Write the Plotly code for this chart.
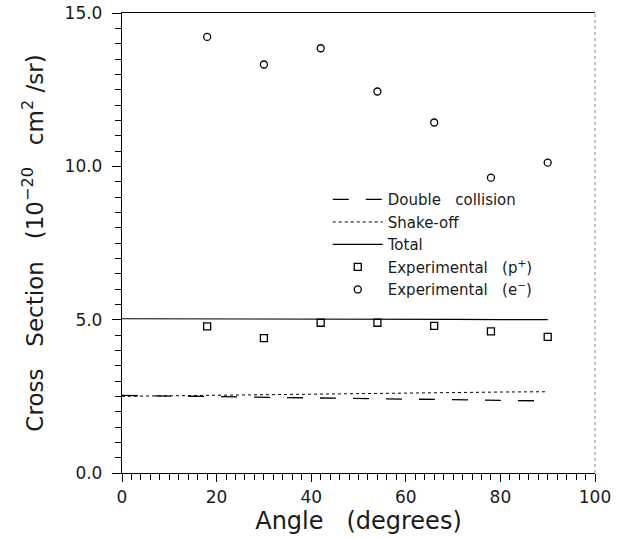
import plotly.graph_objects as go

# Theory curves (angle in degrees)
line_angle = [0, 10, 20, 30, 40, 50, 60, 70, 80, 90]
double_collision = [2.53, 2.51, 2.49, 2.47, 2.45, 2.43, 2.41, 2.39, 2.37, 2.35]
shake_off = [2.50, 2.52, 2.54, 2.56, 2.58, 2.60, 2.61, 2.63, 2.64, 2.65]
total = [5.03, 5.03, 5.03, 5.02, 5.02, 5.02, 5.01, 5.01, 5.00, 5.00]

# Experimental points
exp_angle = [18, 30, 42, 54, 66, 78, 90]
exp_p = [4.78, 4.40, 4.90, 4.90, 4.80, 4.62, 4.44]
exp_e = [14.22, 13.32, 13.85, 12.44, 11.43, 9.63, 10.12]

x_ticks = [0, 20, 40, 60, 80, 100]
y_ticks = [0, 5, 10, 15]
y_tick_labels = ["0.0", "5.0", "10.0", "15.0"]

FONT = "DejaVu Sans, Liberation Sans, sans-serif"
TXT = "#1a1a1a"

fig = go.Figure()
fig.add_trace(go.Scatter(x=line_angle, y=double_collision, mode="lines",
                         name="Double&nbsp;&nbsp; collision",
                         line=dict(color="black", width=1.3, dash="16px,17px")))
fig.add_trace(go.Scatter(x=line_angle, y=shake_off, mode="lines",
                         name="Shake-off",
                         line=dict(color="black", width=1, dash="3px,3px")))
fig.add_trace(go.Scatter(x=line_angle, y=total, mode="lines",
                         name="Total",
                         line=dict(color="black", width=1.2)))
fig.add_trace(go.Scatter(x=exp_angle, y=exp_p, mode="markers",
                         name="Experimental&nbsp;&nbsp; (p<sup>+</sup>)",
                         marker=dict(symbol="square-open", size=7, color="black",
                                     line=dict(width=1.3))))
fig.add_trace(go.Scatter(x=exp_angle, y=exp_e, mode="markers",
                         name="Experimental&nbsp;&nbsp; (e<sup>−</sup>)",
                         marker=dict(symbol="circle-open", size=7, color="black",
                                     line=dict(width=1.3))))

fig.update_layout(
    width=625, height=538,
    margin=dict(l=122, r=30, t=13, b=65, autoexpand=False),
    paper_bgcolor="white", plot_bgcolor="white",
    font=dict(family=FONT, color=TXT, size=16),
    showlegend=True,
    legend=dict(x=0.435, y=0.63, xanchor="left", yanchor="top",
                bgcolor="rgba(0,0,0,0)", borderwidth=0,
                font=dict(size=15, family=FONT, color=TXT), itemwidth=50,
                tracegroupgap=0),
    xaxis=dict(range=[0, 100], tickvals=x_ticks, ticktext=[str(v) for v in x_ticks],
               showgrid=False, zeroline=False, showline=True, linecolor="black",
               linewidth=1.3, mirror=True, ticks="outside", ticklen=8,
               tickcolor="black", tickwidth=1.2, automargin=False,
               minor=dict(dtick=2, ticks="outside", ticklen=6, tickcolor="black",
                          tickwidth=1, showgrid=False),
               tickfont=dict(size=17),
               title=dict(text="Angle&nbsp;&nbsp; (degrees)", font=dict(size=24), standoff=4)),
    yaxis=dict(range=[0, 15], tickvals=y_ticks, ticktext=y_tick_labels,
               showgrid=False, zeroline=False, showline=True, linecolor="black",
               linewidth=1.3, mirror=False, ticks="outside", ticklen=9,
               tickcolor="black", tickwidth=1.2, ticklabelstandoff=6,
               ticklabeloverflow="allow", automargin=False,
               minor=dict(dtick=0.5, ticks="outside", ticklen=6, tickcolor="black",
                          tickwidth=1, showgrid=False),
               tickfont=dict(size=17),
               title=dict(text="Cross&nbsp;&nbsp; Section&nbsp;&nbsp; (10<sup>−20</sup>&nbsp;&nbsp; cm<sup>2</sup>&nbsp;/sr)",
                          font=dict(size=23), standoff=14)),
    shapes=[dict(type="line", xref="paper", yref="paper", x0=1, x1=1, y0=0, y1=1,
                 line=dict(color="#888888", width=1, dash="dot"))],
)

fig.write_html("out.html", config={"displayModeBar": False},
               post_script="document.body.style.margin='0';document.body.style.overflow='hidden';")
